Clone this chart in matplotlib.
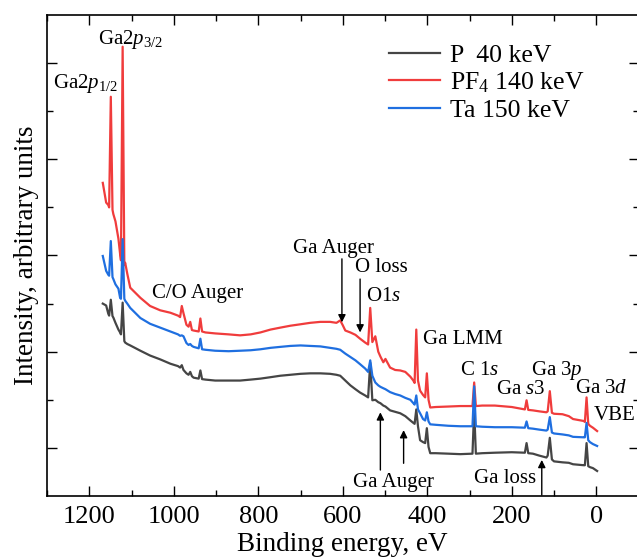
import matplotlib
matplotlib.use('Agg')
import matplotlib.pyplot as plt
from matplotlib.ticker import MultipleLocator, FixedLocator

plt.rcParams['font.family'] = 'Liberation Serif'
plt.rcParams['mathtext.fontset'] = 'custom'
plt.rcParams['mathtext.rm'] = 'Liberation Serif'
plt.rcParams['mathtext.it'] = 'Liberation Serif:italic'

# binding energy grid, eV
energy = [1168, 1160, 1155, 1153, 1149, 1145, 1143, 1138, 1131, 1127, 1125, 1121,
          1117, 1115, 1110, 1103, 1079, 1056, 1032, 1008, 990, 985, 981, 977,
          970, 965, 961, 957, 953, 941, 937, 933, 925, 902, 870, 843, 818, 795,
          771, 748, 724, 700, 677, 653, 630, 615, 606, 600, 594, 582, 570, 559,
          547, 540, 535, 530, 523, 516, 511, 504, 499, 488, 476, 464, 452, 440,
          433, 430, 426, 422, 417, 410, 405, 401, 397, 393, 380, 350, 322, 293,
          289, 285, 270, 240, 200, 169, 165, 161, 150, 135, 118, 115, 110, 105,
          100, 80, 65, 55, 30, 27, 23, 19, 15, 8, -2]

p40 = [4.00, 3.96, 3.79, 3.75, 4.08, 3.74, 3.71, 3.60, 3.46, 3.40, 3.36, 4.02,
       3.22, 3.19, 3.16, 3.13, 3.02, 2.92, 2.84, 2.75, 2.70, 2.67, 2.72, 2.62,
       2.55, 2.52, 2.58, 2.49, 2.46, 2.44, 2.61, 2.43, 2.42, 2.40, 2.40, 2.40,
       2.42, 2.44, 2.47, 2.50, 2.52, 2.54, 2.55, 2.55, 2.54, 2.52, 2.50, 2.45,
       2.40, 2.30, 2.22, 2.15, 2.09, 2.05, 2.77, 1.99, 2.00, 1.95, 1.93, 1.88,
       1.86, 1.78, 1.75, 1.72, 1.66, 1.57, 1.52, 1.50, 1.80, 1.45, 1.16, 1.12,
       1.10, 1.41, 1.02, 0.89, 0.89, 0.88, 0.87, 0.88, 1.80, 0.88, 0.89, 0.90,
       0.91, 0.90, 1.10, 0.89, 0.88, 0.84, 0.80, 0.84, 1.21, 0.76, 0.72, 0.70,
       0.69, 0.66, 0.64, 0.64, 1.10, 0.62, 0.60, 0.58, 0.52]

pf4_140 = [6.51, 6.10, 6.05, 6.00, 8.30, 5.95, 5.86, 5.71, 5.35, 5.03, 4.90, 9.34,
           4.80, 4.85, 4.62, 4.33, 4.12, 3.95, 3.86, 3.81, 3.75, 3.72, 3.95, 3.80,
           3.56, 3.52, 3.62, 3.45, 3.44, 3.42, 3.69, 3.42, 3.40, 3.38, 3.36, 3.34,
           3.36, 3.40, 3.46, 3.50, 3.54, 3.57, 3.60, 3.62, 3.62, 3.60, 3.65, 3.55,
           3.44, 3.40, 3.35, 3.27, 3.19, 3.15, 3.91, 3.20, 3.32, 3.00, 2.90, 2.78,
           2.85, 2.67, 2.62, 2.61, 2.58, 2.48, 2.40, 2.35, 3.46, 2.40, 2.19, 2.10,
           2.05, 2.55, 2.00, 1.84, 1.85, 1.86, 1.87, 1.87, 2.36, 1.87, 1.88, 1.88,
           1.85, 1.80, 1.99, 1.79, 1.78, 1.76, 1.74, 1.76, 2.18, 1.73, 1.71, 1.70,
           1.66, 1.60, 1.56, 1.54, 2.05, 1.50, 1.46, 1.42, 1.35]

ta150 = [4.99, 4.68, 4.60, 4.58, 5.30, 4.55, 4.51, 4.40, 4.31, 4.12, 4.10, 5.34,
         4.10, 4.06, 4.00, 3.91, 3.70, 3.58, 3.50, 3.42, 3.36, 3.33, 3.34, 3.32,
         3.18, 3.14, 3.16, 3.12, 3.10, 3.07, 3.27, 3.05, 3.04, 3.02, 3.01, 3.02,
         3.03, 3.05, 3.08, 3.10, 3.12, 3.13, 3.12, 3.11, 3.08, 3.06, 3.04, 3.00,
         2.96, 2.89, 2.82, 2.74, 2.65, 2.58, 2.82, 2.50, 2.36, 2.30, 2.27, 2.24,
         2.22, 2.16, 2.12, 2.09, 2.04, 2.00, 1.93, 1.90, 2.09, 1.80, 1.72, 1.60,
         1.57, 1.74, 1.55, 1.49, 1.48, 1.46, 1.45, 1.45, 2.28, 1.45, 1.44, 1.43,
         1.43, 1.42, 1.55, 1.41, 1.40, 1.38, 1.36, 1.38, 1.64, 1.32, 1.30, 1.28,
         1.26, 1.23, 1.22, 1.22, 1.52, 1.16, 1.12, 1.08, 1.04]

series = [
    ('P  40 keV', p40, '#454545'),
    ('PF$_4$ 140 keV', pf4_140, '#f03c3c'),
    ('Ta 150 keV', ta150, '#1f6fe0'),
]

fig = plt.figure(figsize=(6.37, 5.59), dpi=100)
ax = fig.add_axes([0.0738, 0.1127, 0.9286, 0.8605])

for label, vals, color in series:
    ax.plot(energy, vals, color=color, lw=1.6, label=label)

ax.set_xlim(1300, -100)
ax.set_ylim(0, 10)
ax.xaxis.set_major_locator(MultipleLocator(200))
ax.xaxis.set_minor_locator(MultipleLocator(100))
ax.yaxis.set_major_locator(FixedLocator([1, 3, 5, 7, 9]))
ax.yaxis.set_minor_locator(FixedLocator([2, 4, 6, 8]))
ax.tick_params(which='both', direction='in', top=True, right=True, width=1.0,
               labelsize=19, pad=7)
ax.tick_params(which='major', length=7)
ax.tick_params(which='minor', length=4.5)
ax.set_yticklabels([])
for sp in ax.spines.values():
    sp.set_linewidth(1.2)

ax.set_xlabel('Binding energy, eV', fontsize=19.5, labelpad=3)
ax.set_ylabel('Intensity, arbitrary units', fontsize=19.5, labelpad=-1)

leg = ax.legend(loc='upper left', bbox_to_anchor=(0.56, 0.962), frameon=False,
                fontsize=18.5, handlelength=2.0, handletextpad=0.4,
                labelspacing=0.15, borderaxespad=0)

# peak labels: (text, x eV, baseline y)
peak_labels = [
    ('Ga2$p_{3/2}$', 1179, 9.40),
    ('Ga2$p_{1/2}$', 1285, 8.49),
    ('C/O Auger', 1051, 4.12),
    ('Ga Auger', 717, 5.05),
    ('O loss', 570, 4.66),
    ('O1$s$', 544, 4.06),
    ('Ga LMM', 409, 3.17),
    ('C 1$s$', 322, 2.51),
    ('Ga $s$3', 237, 2.13),
    ('Ga 3$p$', 154, 2.51),
    ('Ga 3$d$', 50, 2.15),
    ('VBE', 7, 1.59),
    ('Ga Auger', 575, 0.19),
    ('Ga loss', 289, 0.27),
]
for txt, x, y in peak_labels:
    ax.text(x, y, txt, fontsize=15, ha='left', va='baseline')

# arrows: (x eV, tail y, head y)
arrows = [(602, 4.93, 3.61), (559, 4.51, 3.40), (511, 0.54, 1.74),
          (456, 0.68, 1.37), (129, 0.02, 0.75)]
for x, y0, y1 in arrows:
    ax.annotate('', xy=(x, y1), xytext=(x, y0),
                arrowprops=dict(arrowstyle='-|>', color='black', lw=1.0,
                                mutation_scale=11, shrinkA=0, shrinkB=0))

fig.savefig('out.png', dpi=100)
